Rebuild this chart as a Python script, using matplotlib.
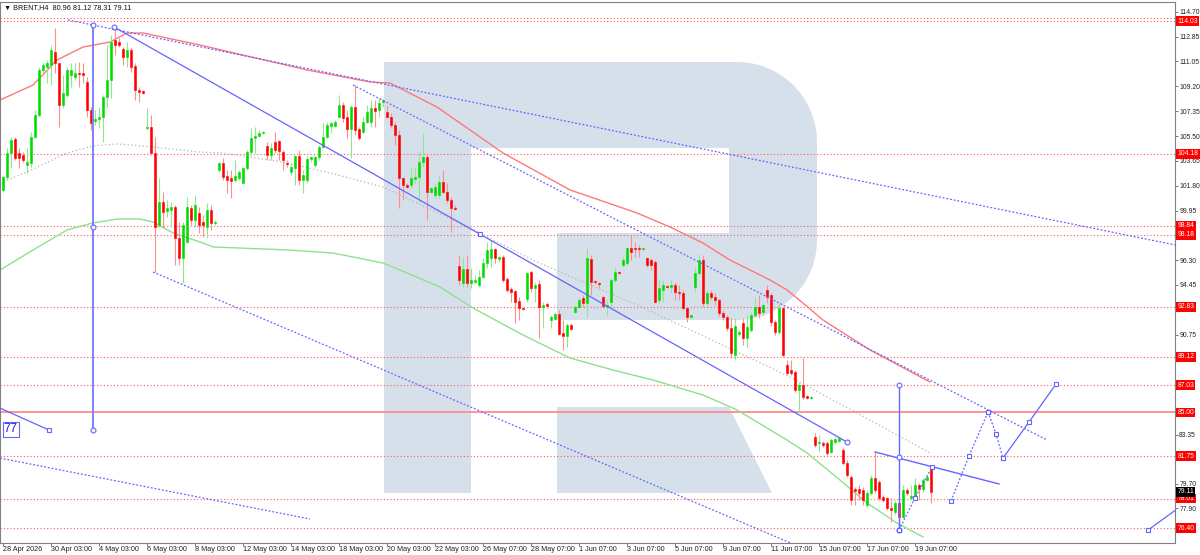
import numpy as np
import matplotlib
matplotlib.use('Agg')
import matplotlib.pyplot as plt
import matplotlib.transforms as mtransforms
from matplotlib.patches import Polygon

# ----------------------------------------------------------------------
# BRENT H4 candles (one value per bar, bar 0 = 28 Apr 03:00)
# ----------------------------------------------------------------------

opens = [
    101.50, 102.46, 104.24, 105.28, 104.24, 104.09, 103.35, 103.50, 105.43, 107.06,
    110.40, 110.62, 110.77, 111.73, 110.92, 107.80, 108.54, 110.03, 109.88, 110.17,
    110.17, 109.51, 107.43, 106.61, 106.76, 106.91, 108.39, 109.66, 112.62, 112.47,
    111.96, 111.36, 111.88, 110.69, 108.91, 108.84, 106.10, 106.17, 104.24, 98.90,
    100.60, 99.94, 100.01, 100.24, 97.94, 96.45, 97.64, 100.16, 99.27, 99.79,
    99.12, 98.75, 100.01, 99.05, 102.98, 103.50, 102.53, 102.39, 102.24, 102.39,
    102.02, 103.13, 104.31, 105.35, 105.50, 105.72, 104.76, 104.09, 105.06, 105.13,
    104.31, 103.50, 102.83, 103.13, 104.02, 102.24, 102.24, 103.80, 103.35, 103.94,
    104.69, 105.43, 106.24, 106.24, 106.91, 107.80, 106.91, 106.02, 107.65, 106.02,
    105.80, 106.54, 106.54, 107.58, 107.43, 108.02, 107.28, 106.91, 106.32, 105.58,
    102.39, 101.87, 101.87, 102.31, 102.46, 103.57, 103.94, 101.35, 101.12, 101.12,
    102.09, 101.35, 100.75, 100.16, 95.86, 94.60, 95.64, 94.60, 94.67, 94.45,
    95.04, 96.08, 96.45, 97.12, 96.38, 96.53, 94.89, 94.15, 94.01, 93.26,
    92.74, 93.41, 95.41, 94.23, 94.52, 92.82, 93.04, 91.85, 91.93, 92.30,
    90.89, 90.67, 91.48, 92.45, 92.82, 93.48, 93.11, 96.38, 94.74, 94.60,
    93.56, 92.82, 93.19, 94.82, 95.41, 95.93, 96.08, 97.19, 97.19, 97.19,
    97.12, 96.45, 96.30, 96.15, 93.34, 94.08, 94.37, 94.30, 94.45, 93.93,
    93.86, 92.74, 92.07, 94.30, 95.34, 96.30, 93.11, 93.86, 93.56, 93.34,
    92.37, 92.07, 91.26, 89.26, 90.81, 91.63, 90.52, 91.11, 92.22, 92.82,
    92.45, 94.08, 93.71, 91.70, 90.96, 92.74, 88.51, 88.14, 87.99, 86.66,
    87.03, 86.22, 86.07, 83.17, 82.73, 82.73, 82.73, 82.06, 82.80, 82.88,
    82.21, 81.24, 80.21, 79.32, 79.32, 79.24, 78.13, 79.02, 80.13, 79.84,
    78.72, 78.65, 77.91, 77.61, 78.28, 77.24, 79.24, 78.65, 78.65, 79.61,
    79.32, 79.98, 80.96]

highs = [
    102.61, 104.61, 105.43, 105.43, 104.61, 104.31, 104.61, 105.80, 107.43, 110.62,
    110.99, 111.14, 112.25, 113.51, 110.92, 110.03, 110.62, 110.92, 110.92, 110.99,
    110.92, 109.88, 107.65, 107.43, 107.65, 108.54, 112.25, 112.99, 113.59, 112.77,
    112.10, 112.47, 112.03, 110.92, 109.14, 108.91, 107.58, 107.06, 105.43, 102.39,
    101.35, 100.75, 100.60, 100.38, 99.12, 99.12, 100.98, 100.38, 101.12, 100.24,
    99.64, 100.53, 100.38, 99.27, 103.57, 103.87, 102.98, 102.98, 103.72, 102.98,
    103.20, 104.46, 106.10, 106.17, 105.95, 105.87, 105.06, 104.98, 105.80, 105.20,
    104.46, 103.72, 103.50, 104.09, 104.46, 102.98, 104.02, 104.02, 104.09, 104.83,
    106.47, 106.54, 106.54, 106.69, 108.54, 108.02, 107.43, 107.80, 109.28, 106.17,
    106.91, 107.80, 108.17, 108.17, 108.32, 108.25, 107.80, 107.21, 106.54, 105.95,
    102.46, 102.02, 103.13, 103.20, 104.31, 105.72, 104.09, 101.72, 102.02, 102.61,
    102.98, 102.02, 100.98, 100.38, 96.67, 96.53, 96.67, 95.71, 95.19, 95.56,
    96.45, 97.64, 97.79, 97.19, 96.60, 96.67, 95.04, 94.30, 94.08, 93.56,
    92.82, 95.41, 95.56, 94.67, 94.82, 93.19, 93.19, 92.22, 92.45, 92.59,
    91.85, 91.63, 91.63, 92.97, 93.56, 93.71, 97.19, 96.67, 94.82, 94.67,
    93.71, 93.34, 94.97, 95.71, 95.49, 96.53, 97.27, 98.16, 97.64, 97.42,
    97.27, 96.53, 96.45, 96.30, 94.82, 94.82, 94.45, 94.82, 94.67, 94.45,
    94.08, 92.82, 92.30, 95.71, 96.67, 96.67, 94.08, 94.08, 93.86, 93.48,
    92.59, 92.22, 92.00, 92.00, 91.11, 92.00, 92.22, 92.45, 93.48, 93.71,
    93.11, 94.45, 93.86, 91.85, 93.11, 92.89, 88.88, 88.88, 88.14, 87.25,
    89.03, 86.29, 86.22, 83.47, 83.32, 82.88, 82.88, 83.10, 83.17, 83.17,
    82.36, 81.46, 80.35, 79.46, 79.61, 79.46, 79.24, 80.35, 82.06, 79.98,
    78.87, 78.72, 78.65, 78.50, 78.50, 79.61, 79.39, 79.61, 80.13, 79.76,
    80.13, 80.35, 81.12]

lows = [
    101.35, 102.24, 103.13, 103.72, 103.13, 103.57, 102.76, 103.20, 105.35, 106.91,
    110.17, 109.43, 109.28, 110.17, 106.17, 107.58, 108.39, 109.14, 109.66, 109.14,
    109.43, 106.91, 105.95, 106.32, 106.10, 105.06, 107.58, 108.32, 111.51, 112.10,
    110.77, 110.62, 110.25, 108.17, 108.02, 108.62, 105.95, 104.09, 95.41, 98.75,
    98.75, 99.49, 98.75, 95.93, 95.93, 94.60, 97.56, 98.90, 98.75, 98.31,
    98.01, 97.94, 98.53, 98.90, 102.83, 102.24, 101.27, 100.90, 102.09, 102.24,
    102.02, 102.98, 104.09, 104.24, 105.43, 105.65, 103.72, 103.72, 104.24, 103.72,
    102.98, 103.20, 102.61, 101.87, 101.87, 101.27, 102.02, 103.57, 103.20, 103.72,
    104.61, 105.35, 105.72, 106.17, 106.84, 106.54, 105.35, 103.87, 105.58, 105.20,
    105.72, 106.47, 106.17, 106.17, 106.91, 107.65, 106.84, 106.10, 104.83, 100.16,
    100.75, 101.64, 101.64, 102.02, 100.60, 103.20, 99.27, 101.27, 100.90, 100.90,
    101.27, 100.53, 98.38, 100.01, 94.45, 94.30, 94.30, 94.23, 94.60, 94.30,
    94.97, 95.71, 95.78, 96.08, 96.15, 94.67, 93.93, 93.19, 91.63, 91.85,
    92.59, 93.19, 93.93, 93.19, 90.52, 91.26, 92.74, 91.26, 91.85, 90.74,
    89.63, 89.85, 91.11, 92.37, 92.74, 92.82, 92.07, 93.71, 94.52, 94.23,
    92.74, 92.22, 92.82, 94.67, 95.26, 95.78, 95.93, 96.30, 96.53, 96.53,
    97.04, 95.78, 95.56, 93.11, 93.11, 93.19, 94.23, 93.86, 93.34, 93.34,
    92.59, 91.70, 92.00, 93.93, 95.19, 92.82, 92.89, 93.34, 92.97, 92.15,
    91.85, 91.04, 89.03, 88.88, 90.67, 90.00, 89.85, 90.96, 92.07, 92.00,
    92.22, 93.11, 91.41, 90.74, 90.81, 89.11, 87.77, 87.77, 86.51, 85.03,
    86.00, 86.00, 86.00, 82.43, 82.06, 82.43, 81.84, 81.99, 82.73, 82.80,
    81.10, 80.21, 78.13, 78.13, 78.50, 78.13, 77.98, 78.87, 79.02, 78.50,
    78.35, 77.76, 76.87, 77.39, 76.45, 77.16, 78.87, 78.50, 78.50, 78.50,
    79.09, 79.91, 78.31]

closes = [
    102.46, 104.24, 105.20, 103.87, 103.87, 103.72, 103.57, 105.43, 107.06, 110.40,
    110.77, 110.92, 111.88, 110.92, 107.80, 108.69, 110.40, 110.40, 110.17, 110.10,
    110.03, 107.43, 106.47, 106.76, 106.91, 108.39, 109.66, 112.47, 112.25, 112.25,
    111.36, 111.88, 110.62, 108.91, 108.77, 108.69, 106.17, 104.24, 98.75, 100.60,
    99.86, 100.16, 100.24, 97.94, 96.45, 98.90, 100.24, 99.27, 100.38, 98.90,
    98.90, 100.01, 99.05, 99.12, 103.50, 102.46, 102.24, 102.16, 102.53, 102.83,
    103.13, 104.31, 105.35, 105.50, 105.72, 105.80, 104.09, 104.61, 104.46, 104.39,
    103.72, 103.42, 103.20, 104.02, 102.24, 102.61, 103.80, 103.94, 103.94, 104.69,
    105.43, 106.32, 106.47, 106.54, 107.80, 106.84, 106.02, 107.65, 105.95, 105.35,
    106.54, 107.28, 107.58, 107.36, 107.95, 108.17, 106.91, 106.32, 105.58, 102.39,
    101.87, 101.72, 102.39, 102.46, 103.57, 103.94, 101.35, 101.64, 101.72, 102.09,
    101.35, 100.75, 100.16, 100.09, 94.82, 95.64, 94.60, 94.82, 94.82, 95.04,
    96.08, 97.04, 97.12, 96.45, 96.53, 94.82, 94.08, 93.93, 93.19, 92.74,
    92.67, 95.34, 94.23, 94.45, 92.82, 92.97, 92.89, 92.07, 92.30, 90.81,
    90.67, 91.48, 91.19, 92.82, 93.34, 93.11, 96.45, 94.67, 94.67, 94.52,
    92.89, 92.97, 94.82, 95.41, 95.34, 96.30, 97.19, 96.90, 97.12, 97.12,
    97.19, 95.93, 95.93, 93.19, 94.23, 94.45, 94.30, 94.45, 93.93, 93.86,
    92.74, 92.07, 92.22, 95.34, 96.30, 93.11, 93.86, 93.56, 93.34, 92.37,
    92.07, 91.26, 89.40, 91.41, 90.96, 90.52, 91.33, 92.22, 92.82, 92.37,
    92.97, 93.56, 91.70, 90.96, 92.74, 89.26, 87.92, 87.92, 86.66, 87.03,
    86.14, 86.07, 86.14, 82.58, 82.80, 82.58, 81.99, 82.95, 83.02, 83.10,
    81.24, 80.35, 78.50, 79.17, 79.02, 78.50, 79.02, 80.13, 79.24, 78.65,
    78.50, 77.91, 77.76, 78.28, 77.24, 79.24, 79.02, 78.80, 79.61, 79.32,
    79.98, 80.21, 79.11]

assert len(opens) == len(highs) == len(lows) == len(closes)

# moving averages (bar position, price)
red_ma_x = [-0.75, 7.5, 13.5, 20, 26.75, 31, 35, 49.25, 76, 91.75, 96.75, 108.5,
            125, 141.75, 158.5, 166.75, 175, 181.75, 191.75, 196, 200, 205, 216.75, 231.75]
red_ma_y = [108.17, 109.28, 111.14, 112.10, 112.47, 113.14, 113.14, 112.25, 110.40, 109.51,
            109.43, 107.65, 104.24, 101.50, 99.79, 98.75, 97.56, 96.30, 94.82, 94.08,
            93.11, 91.85, 89.63, 87.25]
green_ma_x = [-0.75, 7.5, 16, 22.5, 28.5, 34.25, 37.5, 42.5, 49.25, 52.5, 71.75, 82.5, 95,
              99.25, 109.25, 117.5, 130, 141.75, 152.5, 162.5, 175, 183.5, 196, 201,
              209.25, 216, 223.5, 230]
green_ma_y = [95.56, 97.04, 98.53, 99.05, 99.34, 99.34, 99.12, 98.31, 97.64, 97.27, 97.04,
              96.82, 96.08, 95.56, 94.30, 92.74, 90.74, 89.03, 88.14, 87.40, 86.29, 85.18,
              82.95, 81.99, 79.98, 78.28, 76.79, 75.76]
gray_ma_x = [-0.75, 6, 16, 22.5, 28.5, 35, 49.25, 55, 70, 81.75, 95, 116.75, 133.5,
             158.5, 182.5, 196.75, 213.5, 231.75]
gray_ma_y = [102.02, 102.83, 104.24, 104.76, 104.91, 104.76, 104.31, 104.24, 103.57,
             102.76, 101.72, 98.68, 96.15, 92.97, 89.63, 87.62, 84.95, 81.99]

# analyst drawings
trend_x, trend_y = [27.75, 211], [113.59, 82.80]
trend_mid_x, trend_mid_y = 119.25, 98.23
upper_dot_x, upper_dot_y = [16.25, 293], [114.11, 97.42]
steep_dot_x, steep_dot_y = [87.5, 261], [109.28, 82.95]
lower_dot_x, lower_dot_y = [37.5, 199.25], [95.41, 75.01]
left_dot_x, left_dot_y = [-0.75, 76.75], [81.61, 77.09]
left_seg_x, left_seg_y = [-0.75, 11.5], [85.32, 83.69]
vline1_x, vline1_y = 22.5, [113.74, 98.75, 83.69]
vline2_x, vline2_y = 224, [87.03, 81.69, 76.27]
resist_x, resist_y = [218, 249], [82.06, 79.69]
fc1_x, fc1_y = [224, 228, 232.25], [76.27, 78.65, 80.95]
fc2_x, fc2_y = [237, 241.5, 246.25], [78.43, 81.76, 85.03]
fc3_x, fc3_y = [246.25, 248.25, 250], [85.03, 83.40, 81.61]
fc4_x, fc4_y = [250, 256.5, 263.25], [81.61, 84.28, 87.10]
br_x, br_y = [286.25, 293.5], [76.27, 77.83]

dotted_levels = [114.25, 114.03, 104.18, 98.84, 98.18, 92.83, 89.12, 87.03, 81.75, 78.61, 76.40]
solid_level = 85.00
label_levels = [114.03, 104.18, 98.84, 98.18, 92.83, 89.12, 87.03, 85.00, 81.75, 78.61, 76.40]
last_price = 79.11

price_ticks = [114.70, 112.85, 111.05, 109.20, 107.35, 105.50, 103.65, 101.80, 99.95, 98.10,
               96.30, 94.45, 92.60, 90.75, 88.90, 87.05, 85.20, 83.35, 81.50, 79.70, 77.90, 76.10]
date_labels = ['28 Apr 2026', '30 Apr 03:00', '4 May 03:00', '6 May 03:00', '8 May 03:00',
               '12 May 03:00', '14 May 03:00', '18 May 03:00', '20 May 03:00', '22 May 03:00',
               '26 May 07:00', '28 May 07:00', '1 Jun 07:00', '3 Jun 07:00', '5 Jun 07:00',
               '9 Jun 07:00', '11 Jun 07:00', '15 Jun 07:00', '17 Jun 07:00', '19 Jun 07:00']

# ----------------------------------------------------------------------
# figure
# ----------------------------------------------------------------------

FONT = ['Liberation Sans', 'DejaVu Sans']
FS = 5.2      # date scale / title
FS_Y = 4.9    # price scale, has to fit in the 25 px strip on the right
BLUE = '#6464ff'

fig = plt.figure(figsize=(12, 5.55), dpi=100)
fig.patch.set_facecolor('white')

# watermark "R" behind everything, drawn in pixel space
bg = fig.add_axes([0, 0, 1, 1], zorder=0)
bg.set_xlim(0, 1200); bg.set_ylim(555, 0); bg.axis('off')

def arc(cx, cy, r, a0, a1, n=24):
    t = np.radians(np.linspace(a0, a1, n))
    return list(zip(cx + r * np.cos(t), cy + r * np.sin(t)))

body = ([(384, 62), (737, 62)] + arc(737, 142, 80, -90, 0) + [(817, 240)]
        + arc(737, 240, 80, 0, 90)
        + [(557, 320), (557, 233), (729, 233), (729, 148), (471, 148), (471, 493), (384, 493)])
leg = [(557, 407), (729, 407), (772, 493), (557, 493)]
for shape in (body, leg):
    bg.add_patch(Polygon(shape, closed=True, fc='#d6e0eb', ec='none'))

ax = fig.add_axes([0, 12 / 555, 1175 / 1200, 541 / 555], zorder=1)
ax.patch.set_alpha(0)
ax.set_xlim(-0.75, 293)
ax.set_ylim(75.31, 115.44)

# levels
for lv in dotted_levels:
    ax.axhline(lv, color='#ff5a5a', lw=0.8, ls=(0, (1, 2)), zorder=2)
ax.axhline(solid_level, color='#ff8a8a', lw=1.3, zorder=2)

# moving averages
ax.plot(red_ma_x, red_ma_y, color='#ff7878', lw=1.0, zorder=2)
ax.plot(green_ma_x, green_ma_y, color='#8ee08e', lw=1.0, zorder=2)
ax.plot(gray_ma_x, gray_ma_y, color='#b4b4b4', lw=0.9, ls=(0, (1, 2)), zorder=2)

# candles
o, h, l, c = map(np.array, (opens, highs, lows, closes))
idx = np.arange(len(c))
up = c >= o
ax.vlines(idx[up], l[up], h[up], color='#8fe88f', lw=0.8, zorder=3)
ax.vlines(idx[~up], l[~up], h[~up], color='#ff8f8f', lw=0.8, zorder=3)
ax.bar(idx[up], c[up] - o[up], bottom=o[up], width=0.7, color='#00dc00',
       edgecolor='#00dc00', lw=0.4, zorder=4)
ax.bar(idx[~up], o[~up] - c[~up], bottom=c[~up], width=0.7, color='#ff0000',
       edgecolor='#ff0000', lw=0.4, zorder=4)

# drawings
dot = (0, (1.5, 1.5))
hollow_sq = dict(marker='s', ms=3, mfc='white', mec=BLUE, mew=0.8)
hollow_o = dict(marker='o', ms=3.5, mfc='white', mec=BLUE, mew=0.8)

ax.plot(trend_x, trend_y, color=BLUE, lw=0.9, zorder=5, **hollow_o)
ax.plot([trend_mid_x], [trend_mid_y], ls='none', zorder=6, **hollow_sq)
ax.plot(upper_dot_x, upper_dot_y, color=BLUE, lw=0.9, ls=dot, zorder=5)
ax.plot(steep_dot_x, steep_dot_y, color=BLUE, lw=0.9, ls=dot, zorder=5)
ax.plot(lower_dot_x, lower_dot_y, color=BLUE, lw=0.9, ls=dot, zorder=5)
ax.plot(left_dot_x, left_dot_y, color=BLUE, lw=0.9, ls=dot, zorder=5)
ax.plot(left_seg_x, left_seg_y, color=BLUE, lw=0.9, zorder=5)
ax.plot(left_seg_x[-1:], left_seg_y[-1:], ls='none', zorder=6, **hollow_sq)

ax.plot([vline1_x] * 3, vline1_y, color='#8080ff', lw=1.4, zorder=5)
ax.plot([vline1_x] * 3, vline1_y, ls='none', zorder=6, **hollow_o)
ax.plot([vline2_x] * 3, vline2_y, color=BLUE, lw=1.0, zorder=5)
ax.plot([vline2_x] * 3, vline2_y, ls='none', zorder=6, **hollow_o)

ax.plot(resist_x, resist_y, color=BLUE, lw=1.0, zorder=5)
for fx, fy, style in ((fc1_x, fc1_y, dot), (fc2_x, fc2_y, dot),
                      (fc3_x, fc3_y, dot), (fc4_x, fc4_y, '-')):
    ax.plot(fx, fy, color=BLUE, lw=0.9, ls=style, zorder=5)
    ax.plot(fx, fy, ls='none', zorder=6, **hollow_sq)
ax.plot(br_x, br_y, color=BLUE, lw=0.9, zorder=5)
ax.plot(br_x[:1], br_y[:1], ls='none', zorder=6, **hollow_sq)

ax.text(0.2, 83.73, '77', color='#2020d0', fontsize=9, family=FONT, va='center', ha='left',
        zorder=7, bbox=dict(boxstyle='square,pad=0.1', fc='white', ec=BLUE, lw=0.8))

# axes styling
for sp in ax.spines.values():
    sp.set_color('#808080'); sp.set_linewidth(0.8)
ax.yaxis.tick_right()
ax.set_yticks(price_ticks)
# the tags on the scale hide the tick labels right under them
covered = [min(abs(p - lv) for lv in label_levels) < 0.45 for p in price_ticks]
ax.set_yticklabels(['' if cv else f'{p:.2f}' for p, cv in zip(price_ticks, covered)],
                   family=FONT)
ax.tick_params(axis='y', length=2, width=0.6, color='#606060', labelsize=FS_Y,
               labelcolor='#222222', pad=1)
ax.set_xticks(idx[::12][:len(date_labels)])
ax.set_xticklabels(date_labels, ha='left', family=FONT)
ax.tick_params(axis='x', length=2, width=0.6, color='#606060', labelsize=FS,
               labelcolor='#222222', pad=0.5)

# price tags on the right scale
tag = mtransforms.blended_transform_factory(ax.transAxes, ax.transData)
for lv in label_levels:
    ax.text(1.002, lv, f'{lv:.2f}', transform=tag, ha='left', va='center', fontsize=FS_Y,
            family=FONT, color='white', clip_on=False, zorder=8,
            bbox=dict(boxstyle='square,pad=0.2', fc='#ff0000', ec='none'))
ax.text(1.002, last_price, f'{last_price:.2f}', transform=tag, ha='left', va='center',
        fontsize=FS_Y, family=FONT, color='white', clip_on=False, zorder=8,
        bbox=dict(boxstyle='square,pad=0.2', fc='#000000', ec='none'))

fig.text(4 / 1200, 1 - 8 / 555, '\u25bc BRENT,H4  80.96 81.12 78.31 79.11', fontsize=FS,
         family=FONT, va='center', ha='left', color='#111111')

fig.savefig('out.png', dpi=100)
